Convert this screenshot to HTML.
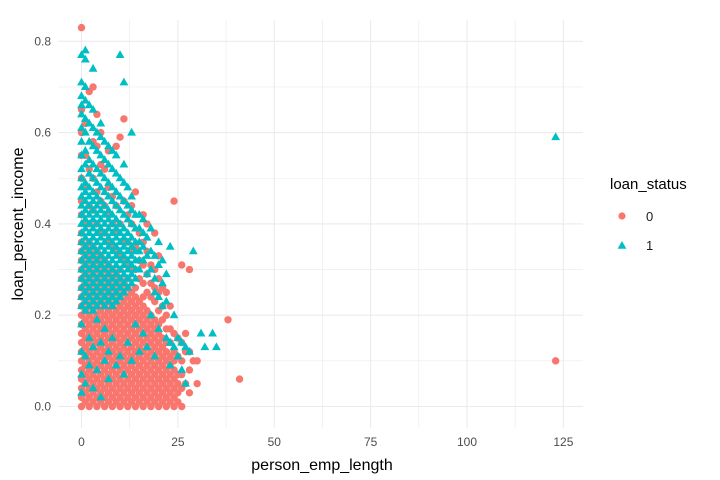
<!DOCTYPE html>
<html><head><meta charset="utf-8"><style>
html,body{margin:0;padding:0;background:#fff;}
svg{display:block;font-family:"Liberation Sans",sans-serif;}
</style></head><body>
<svg id="chart" width="720" height="480" viewBox="0 0 720 480">
<g id="grid"></g>
<g id="red"></g>
<g id="teal"></g>
<g id="axes"></g>
<text x="322" y="470" text-anchor="middle" font-size="16" fill="#000">person_emp_length</text>
<text transform="translate(23,224) rotate(-90)" text-anchor="middle" font-size="16" fill="#000">loan_percent_income</text>
<g>
<text x="610" y="189" font-size="15" fill="#000">loan_status</text>
<g><circle cx="622" cy="216" r="3.6" fill="#F8766D"/><text x="646" y="221" font-size="13" fill="#1a1a1a">0</text></g>
<g><polygon points="622,241 626.4,248.7 617.6,248.7" fill="#00BFC4"/><text x="646" y="250" font-size="13" fill="#1a1a1a">1</text></g>
</g>
</svg>
<script>
const xTicks=[0,25,50,75,100,125];
const yTicks=[0,0.2,0.4,0.6,0.8];
const yTickLabels=["0.0","0.2","0.4","0.6","0.8"];
// red (loan_status 0): x values and per-x y values (hundredths)
const redX=[0,1,2,3,4,5,6,7,8,9,10,11,12,13,14,15,16,17,18,19,20,21,22,23,24,25,26,27,28,29,30,38,41,123];
const redY=[
[0,2,4,6,8,10,12,14,16,18,20,22,24,26,28,30,32,34,36,38,42,45,50,55,60,65,83],
[1,3,5,7,9,11,13,15,17,19,21,23,25,27,29,31,33,35,40,48,55,62],
[0,2,4,6,8,10,12,14,16,18,20,22,24,26,28,30,32,34,36,40,44,52,69],
[1,3,5,7,9,11,13,15,17,19,21,23,25,27,29,31,33,35,43,50,58,70],
[0,2,4,6,8,10,12,14,16,18,20,22,24,26,28,30,32,34,40,47,57,64],
[1,3,5,7,9,11,13,15,17,19,21,23,25,27,29,31,33,38,45,53,60],
[0,2,4,6,8,10,12,14,16,18,20,22,24,26,28,30,32,38,44,52],
[1,3,5,7,9,11,13,15,17,19,21,23,25,27,29,31,36,42,48,56],
[0,2,4,6,8,10,12,14,16,18,20,22,24,26,28,30,35,40,46],
[1,3,5,7,9,11,13,15,17,19,21,23,25,27,29,34,38,44,57],
[0,2,4,6,8,10,12,14,16,18,20,22,24,26,28,30,33,40,59],
[1,3,5,7,9,11,13,15,17,19,21,23,25,27,32,36,45,63],
[0,2,4,6,8,10,12,14,16,18,20,22,24,26,28,31,36,42],
[1,3,5,7,9,11,13,15,17,19,21,23,25,30,34,40,44],
[0,2,4,6,8,10,12,14,16,18,20,22,24,26,30,35,47],
[1,3,5,7,9,11,13,15,17,19,21,23,28,32,38],
[0,2,4,6,8,10,12,14,16,18,20,22,24,27,31,36,42],
[1,3,5,7,9,11,13,15,17,19,21,25,29,34,40],
[0,2,4,6,8,10,12,14,16,18,20,24,27,31],
[1,3,5,7,9,11,13,15,17,19,23,26,30,38],
[0,2,4,6,8,10,12,14,16,18,21,25,28,33],
[1,3,5,7,9,11,13,15,19,22,26],
[0,2,4,6,8,10,12,14,17,20,25],
[1,3,5,7,9,11,14,17,22],
[0,2,4,6,8,10,12,16,45],
[1,3,5,7,11,15],
[0,4,7,10,14,31],
[5,12,16],
[3,8,12,30],
[10],
[5,10],
[19],
[6],
[10]
];
// teal (loan_status 1)
const tealX=[0,1,2,3,4,5,6,7,8,9,10,11,12,13,14,15,16,17,18,19,20,21,22,23,24,25,26,27,28,29,31,32,34,35,123];
const tealY=[
[3,7,12,18,22,24,26,28,30,32,34,36,38,40,42,44,46,48,50,52,55,58,61,64,66,68,71,77],
[5,11,21,23,25,27,29,31,33,35,37,39,41,43,45,47,49,53,56,60,63,67,70,76,78],
[9,15,22,24,26,28,30,32,34,36,38,40,42,44,46,48,51,54,58,62,66],
[4,13,21,23,25,27,29,31,33,35,37,39,41,43,45,47,50,53,57,61,65,74],
[8,19,22,24,26,28,30,32,34,36,38,40,42,44,46,49,52,56,60],
[2,14,23,25,27,29,31,33,35,37,39,41,43,45,48,51,55,59,62],
[10,17,22,24,26,28,30,32,34,36,38,40,42,44,47,50,54,58],
[6,12,23,25,27,29,31,33,35,37,39,41,43,46,49,53,57],
[15,22,24,26,28,30,32,34,36,38,40,42,45,48,52,56],
[9,23,25,27,29,31,33,35,37,39,41,44,47,51,55],
[11,24,26,28,30,32,34,36,38,40,43,46,50,77],
[7,25,27,29,31,33,35,37,39,42,45,49,53,71],
[14,26,28,30,32,34,36,38,41,44,48],
[10,27,29,31,33,35,37,40,43,46,60],
[18,28,30,32,34,36,39,42],
[12,30,32,34,36,39,42],
[16,32,35,38,41],
[13,29,33,37],
[20,30,34,39],
[11,25,28,33],
[17,24,31,36],
[22,27,32],
[15,23,29],
[9,14,35],
[13,20],
[11,15],
[8,14],
[5,13],
[12],
[34],
[16],
[13],
[16],
[13],
[59]
];
const NS="http://www.w3.org/2000/svg";
const PL=58,PR=583,PT=20,PB=428;
function sx(v){return 81.5+v*3.855;}
function sy(v){return 406.5-v*456.5;}
function mk(tag,attrs,parent){const e=document.createElementNS(NS,tag);for(const k in attrs)e.setAttribute(k,attrs[k]);parent.appendChild(e);return e;}
const grid=document.getElementById('grid');
for(let i=0;i<11;i++){const v=i*12.5;const l=mk('line',{x1:sx(v),x2:sx(v),y1:PT,y2:PB,stroke:'#ebebeb','stroke-width':i%2?0.6:1.1},grid);

}
for(let i=0;i<9;i++){const v=i*0.1;const l=mk('line',{x1:PL,x2:PR,y1:sy(v),y2:sy(v),stroke:'#ebebeb','stroke-width':i%2?0.6:1.1},grid);

}
const axes=document.getElementById('axes');
xTicks.forEach(v=>{const t=mk('text',{x:sx(v),y:446,'text-anchor':'middle','font-size':12,fill:'#4d4d4d'},axes);t.textContent=v;

});
yTicks.forEach((v,i)=>{const t=mk('text',{x:51,y:sy(v)+4,'text-anchor':'end','font-size':12,fill:'#4d4d4d'},axes);t.textContent=yTickLabels[i];

});
const red=document.getElementById('red');
redX.forEach((x,i)=>{redY[i].forEach(y=>{const c=mk('circle',{cx:sx(x),cy:sy(y/100),r:3.7,fill:'#F8766D'},red);

});});
const teal=document.getElementById('teal');
tealX.forEach((x,i)=>{tealY[i].forEach(y=>{const cx=sx(x),cy=sy(y/100);const p=mk('polygon',{points:`${cx},${cy-4.8} ${cx+4.4},${cy+3} ${cx-4.4},${cy+3}`,fill:'#00BFC4'},teal);

});});
</script>
</body></html>
